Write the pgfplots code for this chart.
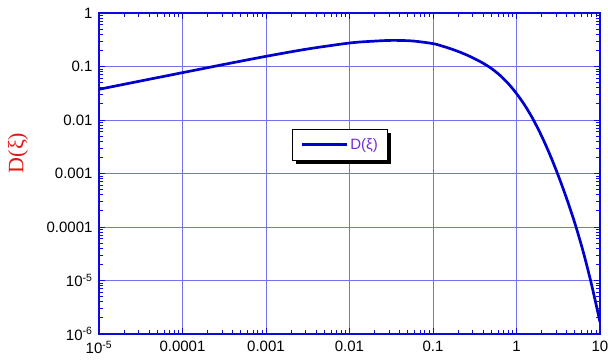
\documentclass[border=0pt]{standalone}
\usepackage{fontspec}
\setmainfont{Liberation Sans}
\newfontfamily\serifD{Liberation Serif}
\usepackage{pgfplots}
\pgfplotsset{compat=1.18}
\usetikzlibrary{shadows}
\makeatletter
\tikzset{no preactions/.code={\let\tikz@preactions\pgfutil@empty}}
\makeatother
\definecolor{axblue}{RGB}{10,10,225}
\definecolor{gridblue}{RGB}{115,115,235}
\definecolor{curveblue}{RGB}{0,0,205}
\definecolor{legviolet}{RGB}{115,45,220}
\definecolor{labred}{RGB}{230,20,20}
\begin{document}
\begin{tikzpicture}
\begin{axis}[
  scale only axis,
  width=501bp, height=321bp,
  xmode=log, ymode=log,
  xmin=1e-5, xmax=10, ymin=1e-6, ymax=1,
  xtick={1e-5,1e-4,1e-3,1e-2,1e-1,1,10},
  xticklabels={10\textsuperscript{-5},0.0001,0.001,0.01,0.1,1,10},
  ytick={1e-6,1e-5,1e-4,1e-3,1e-2,1e-1,1},
  yticklabels={10\textsuperscript{-6},10\textsuperscript{-5},0.0001,0.001,0.01,0.1,1},
  ticklabel style={font=\fontsize{15bp}{17bp}\selectfont, text=black},
  xticklabel style={yshift=-4bp},
  yticklabel style={xshift=-3bp},
  axis line style={axblue, line width=1.3pt},
  every tick/.style={axblue, line width=0.9pt},
  major tick length=6bp, minor tick length=4bp,
  tick align=inside,
  xmajorgrids, ymajorgrids,
  major grid style={gridblue, line width=0.7pt},
  legend style={at={(rel axis cs:0.481,0.589)}, anchor=center, draw=black, line width=1pt,
    fill=white, drop shadow={shadow xshift=3.5bp, shadow yshift=-3.5bp, opacity=1, fill=black},
    font=\fontsize{15bp}{17bp}\selectfont, text=legviolet, inner xsep=8bp, inner ysep=7.5bp},
  legend cell align=left,
  legend image code/.code={\draw[no preactions, #1, curveblue, line width=3.1pt] (0bp,0bp) -- (45bp,0bp);},
]
\addplot[curveblue, line width=2.7pt, smooth] coordinates {
 (1e-5,0.0375) (3.162e-5,0.0537) (1e-4,0.0767) (3.162e-4,0.1096) (1e-3,0.1549)
 (3.162e-3,0.2128) (0.01,0.2748) (0.01778,0.2951) (0.03162,0.3076) (0.05623,0.3006)
 (0.1,0.2679) (0.1259,0.2434) (0.1585,0.2178) (0.1995,0.1914) (0.2512,0.1652)
 (0.3162,0.1396) (0.3981,0.1153) (0.5012,0.0918) (0.6310,0.0689) (0.7943,0.0482)
 (1,0.0313) (1.259,0.01875) (1.585,0.01024) (1.995,0.00505) (2.512,0.002254)
 (3.162,9.18e-4) (3.981,3.43e-4) (5.012,1.163e-4) (6.310,3.41e-5) (7.943,8.28e-6)
 (10,1.67e-6)
};
\addlegendentry{D(ξ)}
\coordinate (sw) at (rel axis cs:0,0);
\coordinate (ne) at (rel axis cs:1,1);
\coordinate (ylab) at (rel axis cs:0,0.564);
\end{axis}
\node[rotate=90, text=labred, font=\serifD\fontsize{22bp}{24bp}\selectfont] at ([xshift=-81bp]ylab) {D(ξ)};
\pgfresetboundingbox
\path[use as bounding box] ([xshift=-99bp,yshift=-30bp]sw) rectangle ([xshift=8bp,yshift=13bp]ne);
\end{tikzpicture}
\end{document}
